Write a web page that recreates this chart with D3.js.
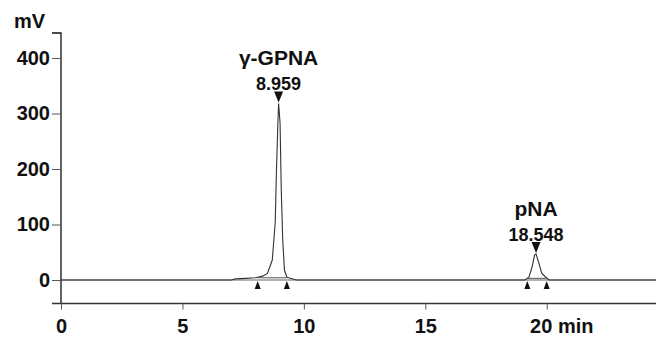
<!DOCTYPE html>
<meta charset="utf-8">
<script src="https://d3js.org/d3.v7.min.js"></script>
<style>
  body { margin: 0; background: #fff; }
  text { font-family: "Liberation Sans", Arial, sans-serif; font-weight: bold; }
</style>
<div id="my_dataviz"></div>
<script>

// chromatogram trace (time in min, signal in mV)
var traceTime = [0, 7.0, 7.2, 7.6, 8.0, 8.3, 8.5, 8.7, 8.82, 8.87, 8.93, 8.96, 9.02, 9.07, 9.13, 9.2, 9.3, 9.55, 9.7,
                 19.1, 19.27, 19.4, 19.5, 19.56, 19.64, 19.8, 19.96, 20.1, 24.5];
var traceMv   = [0, 0, 2, 3, 4, 7, 12, 36, 103, 193, 283, 318, 283, 162, 72, 18, 5, 2, 0,
                 0, 5, 24, 45, 47, 36, 12, 5, 0, 0];

// peaks: name, retention time label, apex time, apex height, integration limits
var peakNames = ["γ-GPNA", "pNA"];
var peakRt = ["8.959", "18.548"];
var peakApex = [8.96, 19.56];
var peakTop = [318, 47];
var peakStart = [8.1, 19.2];
var peakEnd = [9.3, 20.0];
var peakStartMv = [4, 3];
var peakEndMv = [4, 3];

var xTicks = [0, 5, 10, 15, 20];
var yTicks = [0, 100, 200, 300, 400];

var width = 656, height = 337;

var svg = d3.select("#my_dataviz")
  .append("svg")
    .attr("width", width)
    .attr("height", height);

var x = d3.scaleLinear().domain([0, 24.5]).range([61, 656]);
var y = d3.scaleLinear().domain([-42.3, 445]).range([303.5, 33]);

// zero line
svg.append("line")
  .attr("x1", x(0)).attr("x2", width)
  .attr("y1", y(0)).attr("y2", y(0))
  .attr("stroke", "#9a9a9a").attr("stroke-width", 1.3);

// trace
var line = d3.line()
  .x(function(d, i) { return x(traceTime[i]); })
  .y(function(d) { return y(d); });
svg.append("path")
  .datum(traceMv)
  .attr("d", line)
  .attr("fill", "none")
  .attr("stroke", "#333")
  .attr("stroke-width", 1.1);

// peak baselines and markers
peakNames.forEach(function(name, i) {
  svg.append("line")
    .attr("x1", x(peakStart[i])).attr("x2", x(peakEnd[i]))
    .attr("y1", y(peakStartMv[i])).attr("y2", y(peakEndMv[i]))
    .attr("stroke", "#555").attr("stroke-width", 1);

  [peakStart[i], peakEnd[i]].forEach(function(t) {
    var px = x(t), py = y(0) + 1;
    svg.append("path")
      .attr("d", "M" + (px - 3) + "," + (py + 8) + "L" + (px + 3) + "," + (py + 8) + "L" + px + "," + py + "Z")
      .attr("fill", "#111");
  });

  var ax = x(peakApex[i]), ay = y(peakTop[i]) - 1;
  svg.append("path")
    .attr("d", "M" + (ax - 4.5) + "," + (ay - 11) + "L" + (ax + 4.5) + "," + (ay - 11) + "L" + ax + "," + ay + "Z")
    .attr("fill", "#111");

  svg.append("text")
    .attr("x", ax).attr("y", ay - 12)
    .attr("text-anchor", "middle")
    .style("font-size", "18px")
    .attr("fill", "#111")
    .text(peakRt[i]);

  svg.append("text")
    .attr("x", ax).attr("y", ay - 37)
    .attr("text-anchor", "middle")
    .style("font-size", "21px")
    .attr("fill", "#111")
    .text(name);
});

// Y axis
var yAxis = svg.append("g")
  .attr("transform", "translate(" + x(0) + ",0)")
  .call(d3.axisLeft(y).tickValues(yTicks).tickSize(9).tickSizeOuter(0));
yAxis.select(".domain").attr("d", "M-9,33H0V" + y(-42.3)).attr("stroke", "#111").attr("stroke-width", 1.3);
yAxis.selectAll(".tick line").attr("stroke", "#555");
yAxis.selectAll("text").style("font-size", "20px").attr("fill", "#111").attr("x", -11);

// X axis
var xAxis = svg.append("g")
  .attr("transform", "translate(0," + y(-42.3) + ")")
  .call(d3.axisBottom(x).tickValues(xTicks).tickSize(6).tickSizeOuter(0));
xAxis.select(".domain").attr("d", "M52,0H" + width).attr("stroke", "#333").attr("stroke-width", 1.6);
xAxis.selectAll(".tick line").attr("stroke", "#555");
xAxis.selectAll("text").style("font-size", "20px").attr("fill", "#111").attr("y", 15)
  .attr("dx", function(d) { return d === 20 ? -6 : 0; });

svg.append("text")
  .attr("x", 558).attr("y", 333)
  .style("font-size", "20px")
  .attr("fill", "#111")
  .text("min");

svg.append("text")
  .attr("x", 14).attr("y", 28)
  .style("font-size", "20px")
  .attr("fill", "#111")
  .text("mV");

</script>
